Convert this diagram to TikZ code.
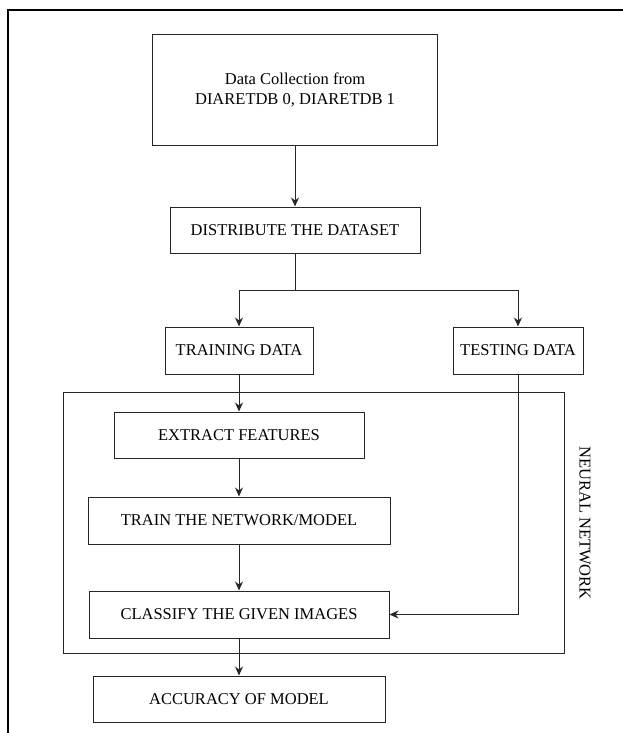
\documentclass[tikz,border=0pt]{standalone}
\usepackage{fontspec}
\setmainfont{Liberation Serif}
\usepackage{tikz}
\usetikzlibrary{positioning}
\usetikzlibrary{arrows.meta}
\tikzset{
  flowbox/.style={
    draw=black!85, line width=1pt, inner sep=0pt,
    minimum height=46pt, align=center,
    font=\fontsize{16.5}{20}\selectfont,
  },
  flowarrow/.style={
    draw=black!85, line width=1pt,
    -{Stealth[length=9pt,width=8pt]},
  },
}

\begin{document}
\begin{tikzpicture}[x=1pt, y=-1pt]

  % Page frame
  \useasboundingbox (0,0) rectangle (623,733);
  \draw[line width=1.2pt] (8,733) -- (8,10) -- (623,10);

  % Define nodes
  \node[flowbox, minimum width=285pt, minimum height=110pt] (collect) at (295,90)
    {Data Collection from\\DIARETDB 0, DIARETDB 1};
  \node[flowbox, minimum width=250pt, below=61pt of collect] (distribute) {DISTRIBUTE THE DATASET};

  \node[flowbox, minimum width=148pt, minimum height=47pt] (training) at (239,350.5) {TRAINING DATA};
  \node[flowbox, minimum width=130pt, minimum height=47pt, right=139pt of training] (testing) {TESTING DATA};

  \node[flowbox, minimum width=250pt, below=37pt of training] (extract) {EXTRACT FEATURES};
  \node[flowbox, minimum width=302pt, minimum height=47pt, below=38pt of extract] (trainnet) {TRAIN THE NETWORK/MODEL};
  \node[flowbox, minimum width=300pt, minimum height=47pt, below=46pt of trainnet] (classify) {CLASSIFY THE GIVEN IMAGES};
  \node[flowbox, minimum width=292pt, below=37pt of classify] (accuracy) {ACCURACY OF MODEL};

  % Neural network frame
  \node[draw=black!85, line width=1pt, minimum width=501pt, minimum height=261pt] (nn) at (313.5,522.5) {};
  \node[rotate=-90, font=\fontsize{16.5}{20}\selectfont] (nnlabel) at (585,523) {NEURAL NETWORK};

  % Connect nodes
  \coordinate[below=37pt of distribute] (split);

  \draw[flowarrow] (collect.south -| distribute) -- (distribute);
  \draw[draw=black!85, line width=1pt] (distribute) -- (split);
  \draw[flowarrow] (split) -| (training);
  \draw[flowarrow] (split) -| (testing);

  \draw[flowarrow] (training) -- (extract);
  \draw[flowarrow] (extract) -- (trainnet);
  \draw[flowarrow] (trainnet) -- (classify);
  \draw[flowarrow] (testing) |- (classify);
  \draw[flowarrow] (classify) -- (accuracy);

\end{tikzpicture}
\end{document}
